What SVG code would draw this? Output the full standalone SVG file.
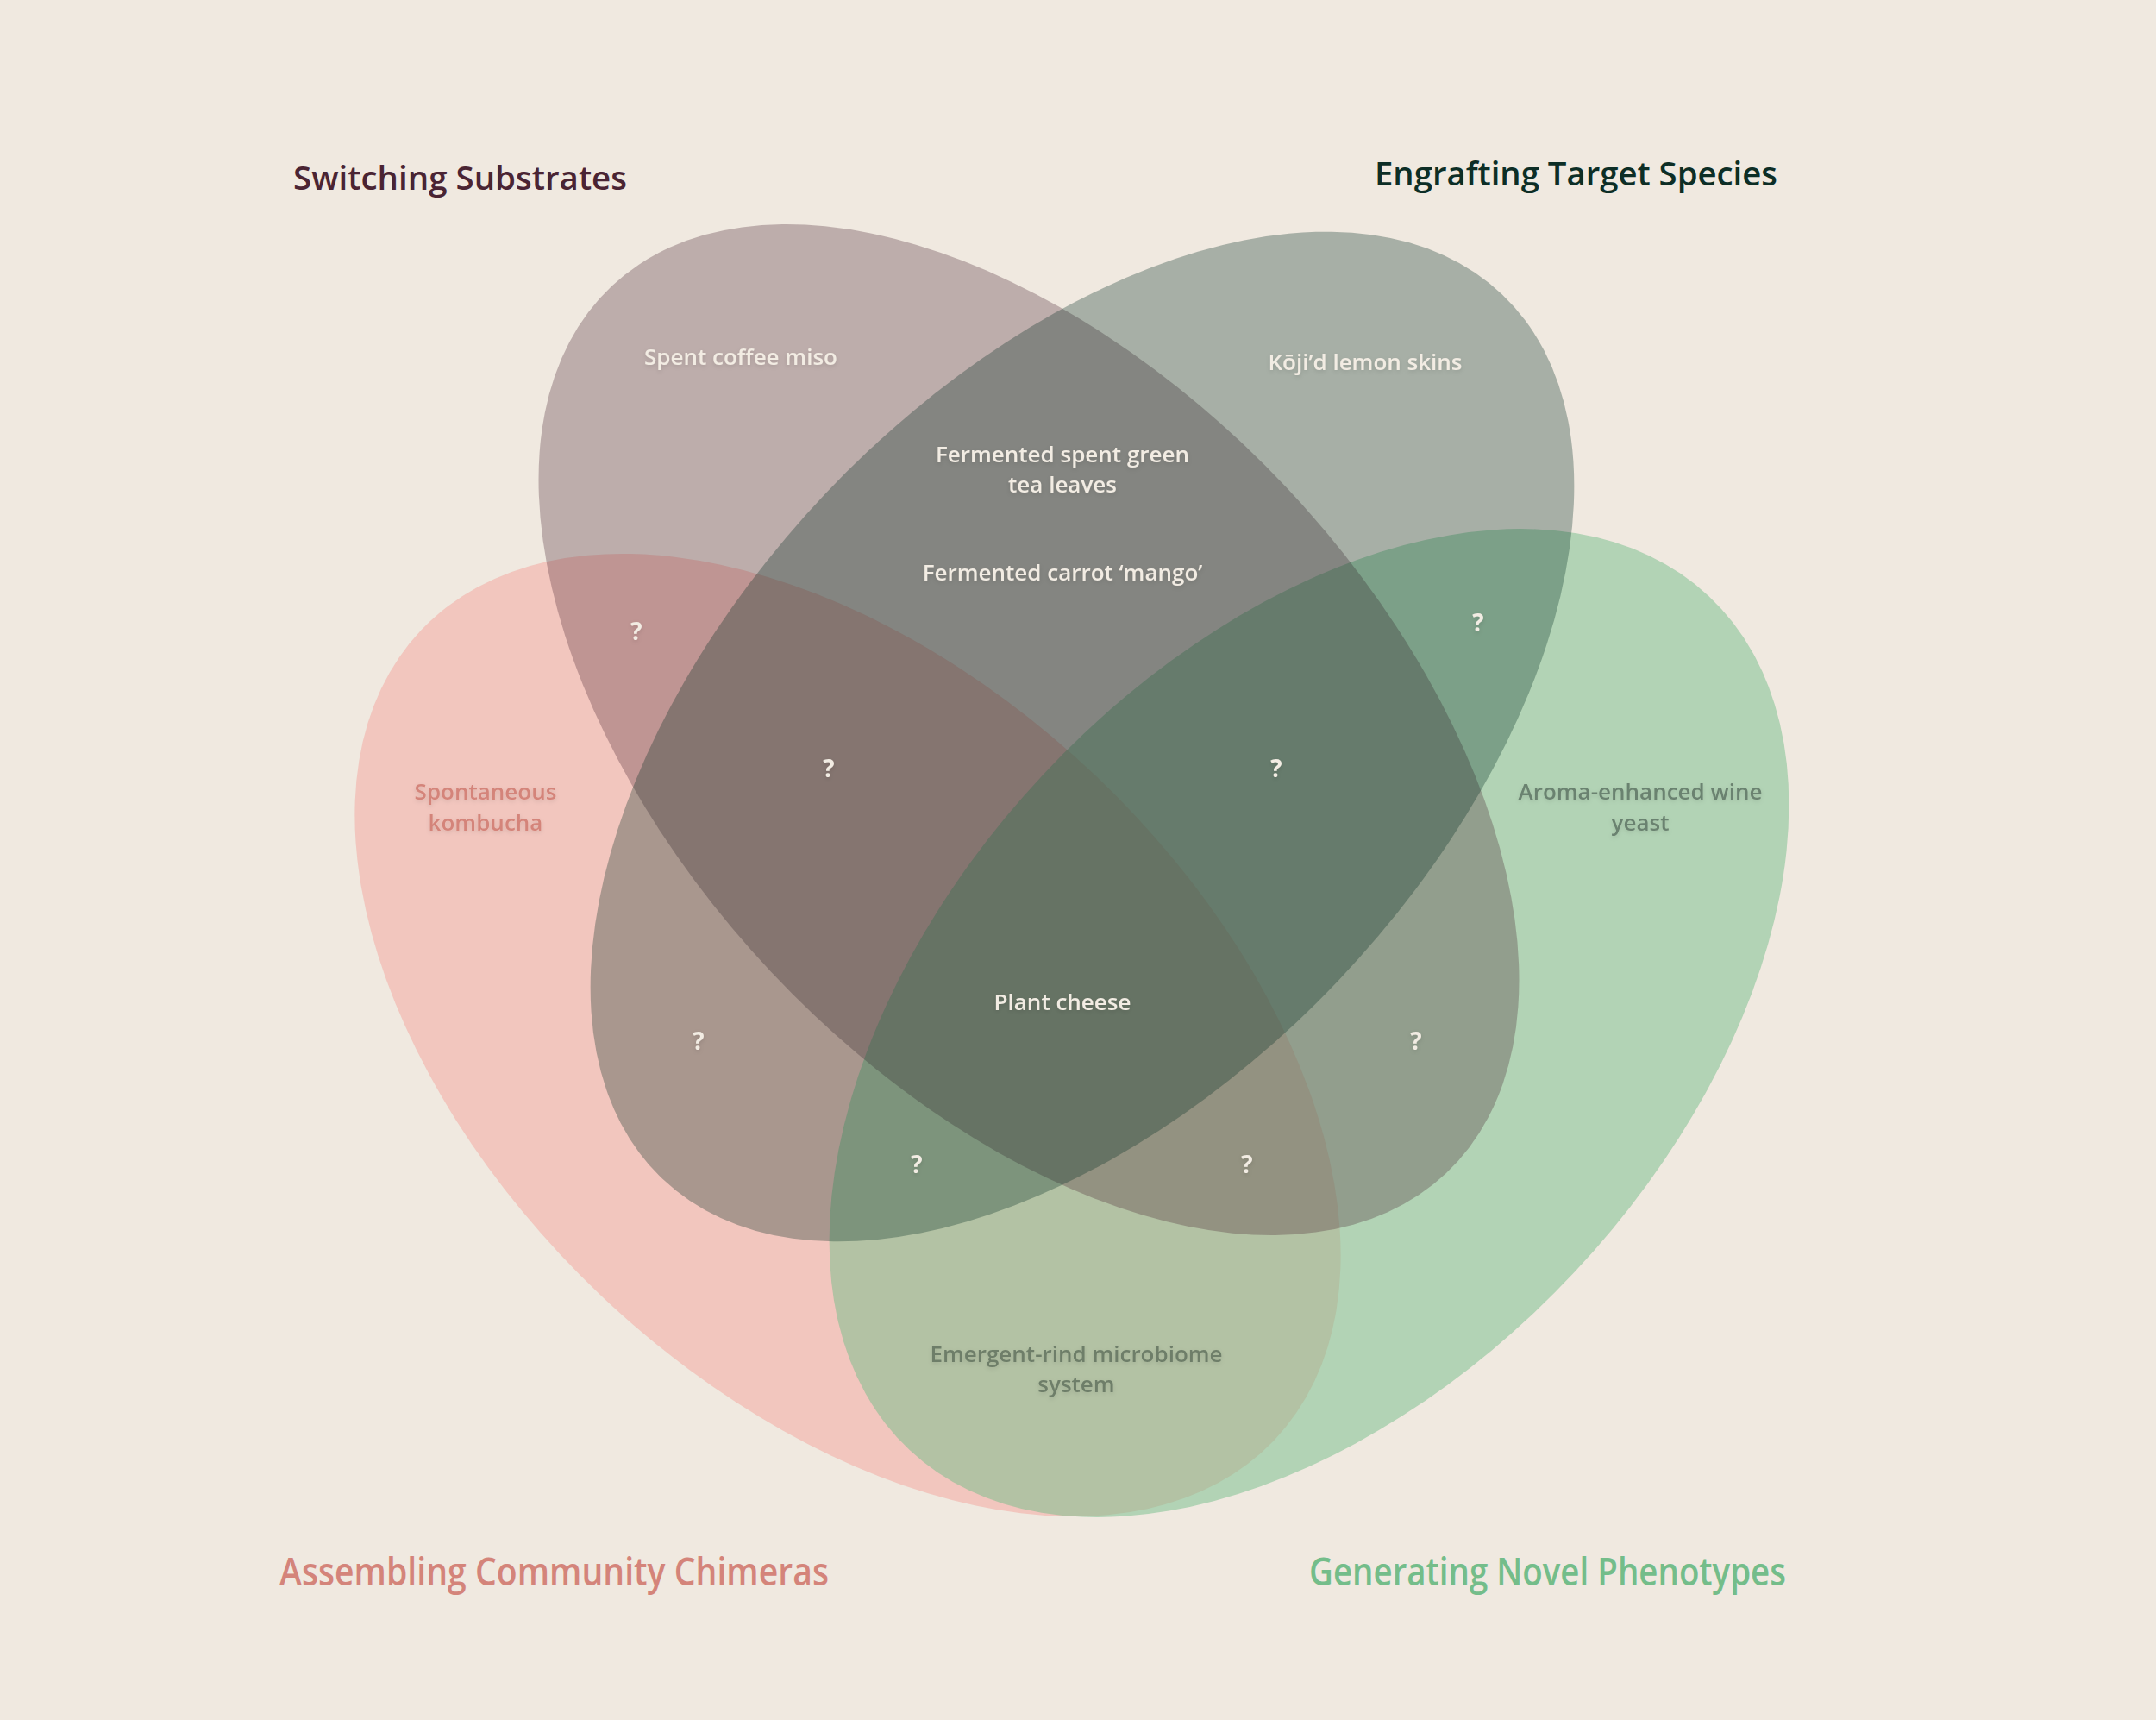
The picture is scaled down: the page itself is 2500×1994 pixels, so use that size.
<svg xmlns="http://www.w3.org/2000/svg" width="2500" height="1994" viewBox="0 0 2500 1994">
<defs>
<style>
.t{font-family:"Open Sans","DejaVu Sans",sans-serif;font-weight:600}
.title{font-size:38px}
.btitle{font-size:45px}
.lbl{font-size:26px;font-weight:600;text-anchor:middle;filter:url(#sh)}
.cream{fill:#F2ECE3}
.q{font-size:28px;font-weight:700;text-anchor:middle;fill:#F2ECE3;filter:url(#sh)}
</style>
<filter id="sh" x="-20%" y="-50%" width="140%" height="200%">
<feDropShadow dx="0" dy="2" stdDeviation="2.5" flood-color="#000" flood-opacity="0.12"/>
</filter>
</defs>
<rect width="2500" height="1994" fill="#F0E9E0"/>
<g id="sets">
<g id="set-assembling"><ellipse cx="983" cy="1200" rx="682" ry="416" transform="rotate(43.5 983 1200)" fill="#F4A39C" fill-opacity="0.5"/></g>
<g id="set-generating"><ellipse cx="1518" cy="1186" rx="678" ry="422" transform="rotate(-46.9 1518 1186)" fill="#74BD8A" fill-opacity="0.5"/></g>
<g id="set-switching"><ellipse cx="1193" cy="846" rx="706" ry="410" transform="rotate(46.75 1193 846)" fill="#4A2433" fill-opacity="0.3"/></g>
<g id="set-engrafting"><ellipse cx="1255" cy="854" rx="707" ry="410" transform="rotate(-46.5 1255 854)" fill="#002B22" fill-opacity="0.3"/></g>
</g>
<g id="titles">
<text class="t title" x="340" y="220" fill="#4A2433" textLength="387" lengthAdjust="spacingAndGlyphs">Switching Substrates</text>
<text class="t title" x="1594" y="215" fill="#0D2E26" textLength="467" lengthAdjust="spacingAndGlyphs">Engrafting Target Species</text>
<text class="t btitle" x="324" y="1838" fill="#D4847A" textLength="637" lengthAdjust="spacingAndGlyphs">Assembling Community Chimeras</text>
<text class="t btitle" x="1518" y="1838" fill="#74BD8A" textLength="553" lengthAdjust="spacingAndGlyphs">Generating Novel Phenotypes</text>
</g>
<g id="labels">
<text class="t lbl cream" x="859" y="423">Spent coffee miso</text>
<text class="t lbl cream" x="1583" y="429">Kōji’d lemon skins</text>
<text class="t lbl cream" x="1232" y="536">Fermented spent green</text>
<text class="t lbl cream" x="1232" y="571">tea leaves</text>
<text class="t lbl cream" x="1232" y="673">Fermented carrot ‘mango’</text>
<text class="t lbl" x="563" y="927" fill="#D4847A">Spontaneous</text>
<text class="t lbl" x="563" y="963" fill="#D4847A">kombucha</text>
<text class="t lbl" x="1902" y="927" fill="#6B8270">Aroma-enhanced wine</text>
<text class="t lbl" x="1902" y="963" fill="#6B8270">yeast</text>
<text class="t lbl cream" x="1232" y="1171">Plant cheese</text>
<text class="t lbl" x="1248" y="1579" fill="#6E7E69">Emergent-rind microbiome</text>
<text class="t lbl" x="1248" y="1614" fill="#6E7E69">system</text>
</g>
<g id="unknowns">
<text class="t q" x="738" y="742">?</text>
<text class="t q" x="961" y="901">?</text>
<text class="t q" x="1480" y="901">?</text>
<text class="t q" x="1714" y="732">?</text>
<text class="t q" x="810" y="1217">?</text>
<text class="t q" x="1642" y="1217">?</text>
<text class="t q" x="1063" y="1360">?</text>
<text class="t q" x="1446" y="1360">?</text>
</g>
</svg>
